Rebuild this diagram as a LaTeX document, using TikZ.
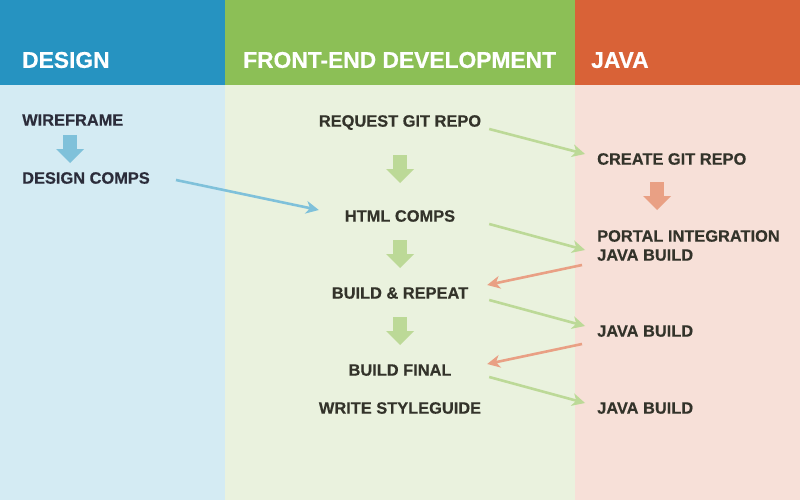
\documentclass[tikz,border=0pt]{standalone}
\usepackage{fontspec}
\setmainfont{Liberation Sans}[BoldFeatures={FakeBold=0.5}]
\usepackage{tikz}
\usetikzlibrary{arrows.meta}
\definecolor{deshead}{HTML}{2693C1}
\definecolor{desback}{HTML}{D4EBF3}
\definecolor{fehead}{HTML}{8CBF56}
\definecolor{feback}{HTML}{EAF2DE}
\definecolor{javahead}{HTML}{D96237}
\definecolor{javaback}{HTML}{F7E0D8}
\definecolor{bluearr}{HTML}{7FC1DA}
\definecolor{greenarr}{HTML}{BCD997}
\definecolor{orangearr}{HTML}{E9A084}
\definecolor{destext}{HTML}{2B2C3A}
\definecolor{fetext}{HTML}{33332A}
\tikzstyle{colhead} = [anchor=west, inner sep=0pt, text=white, font=\fontsize{22.8}{26}\selectfont\bfseries, text height=15.7pt, text depth=0pt]
\tikzstyle{task} = [inner sep=0pt, font=\fontsize{16.4}{19}\selectfont\bfseries]
\tikzstyle{oneline} = [text height=11.3pt, text depth=0pt]
\tikzstyle{destask} = [task, oneline, anchor=west, text=destext]
\tikzstyle{fetask} = [task, oneline, minimum width=178pt, text=fetext]
\tikzstyle{javatask} = [task, anchor=west, text=fetext]
\tikzstyle{handoff} = [line width=2.6pt, -{Stealth[length=13pt,width=13pt,inset=4pt,line width=0pt]}]
\tikzstyle{stepdown} = [line width=14pt, -{Triangle[length=14pt,width=28pt,line width=0pt]}]

\begin{document}
\begin{tikzpicture}[x=1pt,y=-1pt]
\useasboundingbox (0,0) rectangle (800,500);

% columns
\fill[desback] (0,85) rectangle (225,500);
\fill[feback] (225,85) rectangle (575,500);
\fill[javaback] (575,85) rectangle (800,500);
\fill[deshead] (0,0) rectangle (225,85);
\fill[fehead] (225,0) rectangle (575,85);
\fill[javahead] (575,0) rectangle (800,85);

\node[colhead] (hdes) at (22,60) {DESIGN};
\node[colhead] (hfe) at (243,60) {FRONT-END DEVELOPMENT};
\node[colhead] (hjava) at (591,60) {JAVA};

% tasks
\node[destask] (wire) at (22,120) {WIREFRAME};
\node[destask] (dcomps) at (22,178) {DESIGN COMPS};

\node[fetask] (req) at (400,121) {REQUEST GIT REPO};
\node[fetask] (html) at (400,216) {HTML COMPS};
\node[fetask] (brep) at (400,293) {BUILD \& REPEAT};
\node[fetask] (bfinal) at (400,370) {BUILD FINAL};
\node[fetask] (sguide) at (400,408) {WRITE STYLEGUIDE};

\node[javatask, oneline] (cgit) at (597,159) {CREATE GIT REPO};
\node[javatask, anchor=north west, align=left] (portal) at (597,230) {PORTAL INTEGRATION\\JAVA BUILD};
\node[javatask, oneline] (jb1) at (597,331) {JAVA BUILD};
\node[javatask, oneline] (jb2) at (597,408) {JAVA BUILD};

% steps within a column
\draw[stepdown, bluearr, shorten <=15pt, shorten >=15pt] ([xshift=48pt]wire.west) -- ([xshift=48pt]dcomps.west);
\draw[stepdown, greenarr, shorten <=34pt, shorten >=33pt] (req.center) -- (html.center);
\draw[stepdown, greenarr, shorten <=24pt, shorten >=25pt] (html.center) -- (brep.center);
\draw[stepdown, greenarr, shorten <=24pt, shorten >=25pt] (brep.center) -- (bfinal.center);
\draw[stepdown, orangearr, shorten <=23pt, shorten >=20pt] ([xshift=60pt]cgit.west) -- ([xshift=60pt]portal.north west);

% hand-offs between columns
\draw[handoff, bluearr] ([xshift=26pt,yshift=-2pt]dcomps.east) -- ([xshift=8pt,yshift=6pt]html.west);
\draw[handoff, greenarr] ([yshift=-8pt]req.east) -- ([xshift=-12pt,yshift=5pt]cgit.west);
\draw[handoff, greenarr] ([yshift=-8pt]html.east) -- ([xshift=-12pt,yshift=-20pt]portal.north west);
\draw[handoff, orangearr] ([xshift=-15pt,yshift=-35pt]portal.north west) -- ([xshift=-2pt,yshift=8pt]brep.east);
\draw[handoff, greenarr] ([yshift=-7pt]brep.east) -- ([xshift=-12pt,yshift=5pt]jb1.west);
\draw[handoff, orangearr] ([xshift=-15pt,yshift=-13pt]jb1.west) -- ([xshift=-2pt,yshift=6pt]bfinal.east);
\draw[handoff, greenarr] ([yshift=-7pt]bfinal.east) -- ([xshift=-12pt,yshift=5pt]jb2.west);
\end{tikzpicture}
\end{document}
